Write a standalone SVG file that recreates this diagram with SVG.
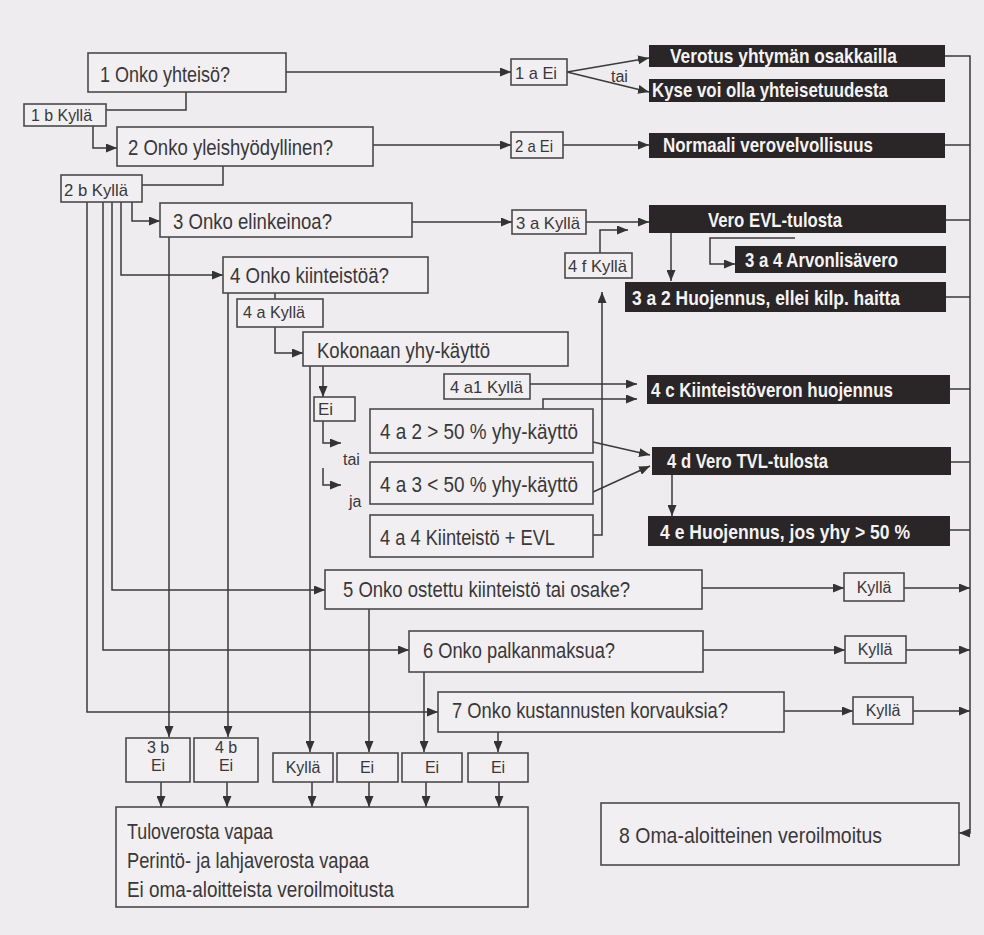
<svg xmlns="http://www.w3.org/2000/svg" width="984" height="935" viewBox="0 0 984 935">
<defs>
<marker id="ar" markerUnits="userSpaceOnUse" markerWidth="11" markerHeight="9" refX="11" refY="4.5" orient="auto"><path d="M0,0 L11,4.5 L0,9 z" fill="#333"/></marker>
<style>
.b{fill:#f1eff2;stroke:#4a4a4a;stroke-width:1.6}
.d{fill:#2a2526}
.t{font-family:"Liberation Sans",Arial,sans-serif;fill:#3a373a;font-size:22px}
.s{font-size:17px}
.x{font-size:16px}
.w{fill:#f4f2f4;font-weight:bold;font-size:21px}
.m{text-anchor:middle}
.c{fill:none;stroke:#3a3a3a;stroke-width:1.5}
.a{marker-end:url(#ar)}
</style>
</defs>
<rect width="984" height="935" fill="#eeecef"/>
<g id="connectors">
<path class="c a" d="M286,72 H511"/>
<path class="c a" d="M567,72 L649,58"/>
<path class="c a" d="M567,72 L649,92"/>
<path class="c" d="M186,92 V110 H106"/>
<path class="c a" d="M93,126 V148 H117"/>
<path class="c a" d="M373,145 H511"/>
<path class="c a" d="M563,145 H649"/>
<path class="c" d="M223,166 V185 H142"/>
<path class="c a" d="M132,202 V221 H160"/>
<path class="c a" d="M121,202 V275 H223"/>
<path class="c a" d="M112,202 V590 H325"/>
<path class="c a" d="M103,202 V650 H409"/>
<path class="c a" d="M87,202 V712 H438"/>
<path class="c a" d="M412,222 H512"/>
<path class="c a" d="M586,222 H649"/>
<path class="c a" d="M600,253 V230 H628"/>
<path class="c a" d="M593,535 H602 V292"/>
<path class="c a" d="M671,233 V281"/>
<path class="c a" d="M795,238 H710 V264 H735"/>
<path class="c a" d="M169,237 V737"/>
<path class="c a" d="M228,293 V737"/>
<path class="c" d="M275,293 V299"/>
<path class="c a" d="M275,327 V353 H303"/>
<path class="c a" d="M310,366 V752"/>
<path class="c a" d="M323,366 V397"/>
<path class="c a" d="M323,421 V443 H341"/>
<path class="c a" d="M323,468 V485 H341"/>
<path class="c a" d="M530,384 H637"/>
<path class="c a" d="M543,409 V399 H637"/>
<path class="c a" d="M593,442 L650,455"/>
<path class="c a" d="M593,492 L650,466"/>
<path class="c a" d="M672,475 V516"/>
<path class="c a" d="M369,609 V752"/>
<path class="c a" d="M424,672 V752"/>
<path class="c a" d="M498,732 V752"/>
<path class="c a" d="M702,588 H844"/>
<path class="c a" d="M904,588 H970"/>
<path class="c a" d="M703,650 H845"/>
<path class="c a" d="M906,650 H970"/>
<path class="c a" d="M784,711 H853"/>
<path class="c a" d="M913,711 H970"/>
<path class="c a" d="M945,56 H970 V833 H959"/>
<path class="c" d="M945,145 H970 M946,220 H970 M946,297 H970 M950,389 H970 M951,462 H970 M950,530 H970"/>
<path class="c a" d="M161,782 V807"/>
<path class="c a" d="M227,782 V807"/>
<path class="c a" d="M312,782 V807"/>
<path class="c a" d="M369,782 V807"/>
<path class="c a" d="M426,782 V807"/>
<path class="c a" d="M499,782 V807"/>
</g>
<g id="n1"><rect class="b" x="88" y="53" width="198" height="39"/><text class="t" x="100" y="82" textLength="130" lengthAdjust="spacingAndGlyphs">1  Onko yhteisö?</text></g>
<g id="n1b"><rect class="b" x="24" y="104" width="82" height="22"/><text class="t s" x="31" y="121" textLength="61" lengthAdjust="spacingAndGlyphs">1 b  Kyllä</text></g>
<g id="n2"><rect class="b" x="117" y="127" width="256" height="39"/><text class="t" x="128" y="155" textLength="205" lengthAdjust="spacingAndGlyphs">2  Onko yleishyödyllinen?</text></g>
<g id="n2b"><rect class="b" x="61" y="175" width="81" height="27"/><text class="t s" x="64" y="196" textLength="64" lengthAdjust="spacingAndGlyphs">2 b  Kyllä</text></g>
<g id="n3"><rect class="b" x="160" y="203" width="252" height="34"/><text class="t" x="173" y="229" textLength="159" lengthAdjust="spacingAndGlyphs">3  Onko elinkeinoa?</text></g>
<g id="n4"><rect class="b" x="223" y="257" width="205" height="36"/><text class="t" x="230" y="283" textLength="159" lengthAdjust="spacingAndGlyphs">4  Onko kiinteistöä?</text></g>
<g id="n4a"><rect class="b" x="237" y="299" width="86" height="28"/><text class="t s" x="243" y="318" textLength="62" lengthAdjust="spacingAndGlyphs">4 a  Kyllä</text></g>
<g id="nkok"><rect class="b" x="303" y="332" width="265" height="34"/><text class="t" x="317" y="358" textLength="173" lengthAdjust="spacingAndGlyphs">Kokonaan yhy-käyttö</text></g>
<g id="n4a1"><rect class="b" x="444" y="374" width="86" height="25"/><text class="t s" x="450" y="393" textLength="73" lengthAdjust="spacingAndGlyphs">4 a1  Kyllä</text></g>
<g id="nei"><rect class="b" x="314" y="397" width="41" height="24"/><text class="t s" x="318" y="415">Ei</text></g>
<g id="ltai"><text class="t x" x="343" y="465">tai</text></g>
<g id="lja"><text class="t x" x="349" y="507">ja</text></g>
<g id="n4a2"><rect class="b" x="370" y="409" width="223" height="44"/><text class="t" x="380" y="439" textLength="198" lengthAdjust="spacingAndGlyphs">4 a 2 &gt; 50 % yhy-käyttö</text></g>
<g id="n4a3"><rect class="b" x="370" y="462" width="223" height="42"/><text class="t" x="380" y="492" textLength="198" lengthAdjust="spacingAndGlyphs">4 a 3 &lt; 50 % yhy-käyttö</text></g>
<g id="n4a4"><rect class="b" x="370" y="515" width="223" height="42"/><text class="t" x="380" y="545" textLength="175" lengthAdjust="spacingAndGlyphs">4 a 4 Kiinteistö + EVL</text></g>
<g id="n5"><rect class="b" x="325" y="570" width="377" height="39"/><text class="t" x="343" y="597" textLength="287" lengthAdjust="spacingAndGlyphs">5  Onko ostettu kiinteistö tai osake?</text></g>
<g id="n6"><rect class="b" x="409" y="631" width="294" height="41"/><text class="t" x="423" y="658" textLength="192" lengthAdjust="spacingAndGlyphs">6  Onko palkanmaksua?</text></g>
<g id="n7"><rect class="b" x="438" y="692" width="346" height="40"/><text class="t" x="452" y="718" textLength="276" lengthAdjust="spacingAndGlyphs">7  Onko kustannusten korvauksia?</text></g>
<g id="k5"><rect class="b" x="844" y="573" width="60" height="28"/><text class="t x m" x="874" y="593">Kyllä</text></g>
<g id="k6"><rect class="b" x="845" y="636" width="61" height="27"/><text class="t x m" x="875" y="655">Kyllä</text></g>
<g id="k7"><rect class="b" x="853" y="697" width="60" height="27"/><text class="t x m" x="883" y="716">Kyllä</text></g>
<g id="n1a"><rect class="b" x="511" y="59" width="56" height="26"/><text class="t s" x="515" y="79" textLength="42" lengthAdjust="spacingAndGlyphs">1 a  Ei</text></g>
<g id="ltai2"><text class="t x" x="611" y="82">tai</text></g>
<g id="n2a"><rect class="b" x="511" y="132" width="52" height="26"/><text class="t s" x="515" y="152" textLength="38" lengthAdjust="spacingAndGlyphs">2 a  Ei</text></g>
<g id="n3a"><rect class="b" x="512" y="210" width="74" height="24"/><text class="t s" x="516" y="229" textLength="64" lengthAdjust="spacingAndGlyphs">3 a  Kyllä</text></g>
<g id="n4f"><rect class="b" x="565" y="253" width="67" height="25"/><text class="t s" x="568" y="272" textLength="59" lengthAdjust="spacingAndGlyphs">4 f  Kyllä</text></g>
<g id="dverotus"><rect class="d" x="649" y="45" width="296" height="22"/><text class="t w" x="670" y="63" textLength="227" lengthAdjust="spacingAndGlyphs">Verotus yhtymän osakkailla</text></g>
<g id="dkyse"><rect class="d" x="649" y="79" width="296" height="23"/><text class="t w" x="652" y="97" textLength="236" lengthAdjust="spacingAndGlyphs">Kyse voi olla yhteisetuudesta</text></g>
<g id="dnormaali"><rect class="d" x="649" y="133" width="296" height="25"/><text class="t w" x="663" y="152" textLength="210" lengthAdjust="spacingAndGlyphs">Normaali verovelvollisuus</text></g>
<g id="devl"><rect class="d" x="649" y="205" width="297" height="28"/><text class="t w" x="708" y="227" textLength="134" lengthAdjust="spacingAndGlyphs">Vero EVL-tulosta</text></g>
<g id="d3a4"><rect class="d" x="735" y="246" width="211" height="27"/><text class="t w" x="745" y="267" textLength="153" lengthAdjust="spacingAndGlyphs">3 a 4 Arvonlisävero</text></g>
<g id="d3a2"><rect class="d" x="625" y="282" width="321" height="30"/><text class="t w" x="632" y="305" textLength="268" lengthAdjust="spacingAndGlyphs">3 a 2 Huojennus, ellei kilp. haitta</text></g>
<g id="d4c"><rect class="d" x="647" y="375" width="303" height="29"/><text class="t w" x="651" y="397" textLength="242" lengthAdjust="spacingAndGlyphs">4 c Kiinteistöveron huojennus</text></g>
<g id="d4d"><rect class="d" x="652" y="447" width="299" height="28"/><text class="t w" x="667" y="468" textLength="161" lengthAdjust="spacingAndGlyphs">4 d Vero TVL-tulosta</text></g>
<g id="d4e"><rect class="d" x="648" y="516" width="302" height="30"/><text class="t w" x="660" y="539" textLength="250" lengthAdjust="spacingAndGlyphs">4 e Huojennus, jos yhy &gt; 50 %</text></g>
<g id="b3b"><rect class="b" x="126" y="738" width="64" height="44"/><text class="t x m" x="158" y="753">3 b</text><text class="t x m" x="158" y="771">Ei</text></g>
<g id="b4b"><rect class="b" x="194" y="738" width="64" height="44"/><text class="t x m" x="226" y="753">4 b</text><text class="t x m" x="226" y="771">Ei</text></g>
<g id="bk"><rect class="b" x="273" y="753" width="60" height="29"/><text class="t x m" x="303" y="773">Kyllä</text></g>
<g id="be5"><rect class="b" x="337" y="753" width="61" height="29"/><text class="t x m" x="367" y="773">Ei</text></g>
<g id="be6"><rect class="b" x="402" y="753" width="60" height="29"/><text class="t x m" x="432" y="773">Ei</text></g>
<g id="be7"><rect class="b" x="468" y="753" width="60" height="29"/><text class="t x m" x="498" y="773">Ei</text></g>
<g id="nfree"><rect class="b" x="116" y="807" width="412" height="100"/>
<text class="t" x="127" y="839" textLength="146" lengthAdjust="spacingAndGlyphs">Tuloverosta vapaa</text>
<text class="t" x="127" y="868" textLength="242" lengthAdjust="spacingAndGlyphs">Perintö- ja lahjaverosta vapaa</text>
<text class="t" x="127" y="897" textLength="267" lengthAdjust="spacingAndGlyphs">Ei oma-aloitteista veroilmoitusta</text></g>
<g id="n8"><rect class="b" x="601" y="803" width="358" height="62"/><text class="t" x="619" y="843" textLength="263" lengthAdjust="spacingAndGlyphs">8  Oma-aloitteinen veroilmoitus</text></g>
</svg>
